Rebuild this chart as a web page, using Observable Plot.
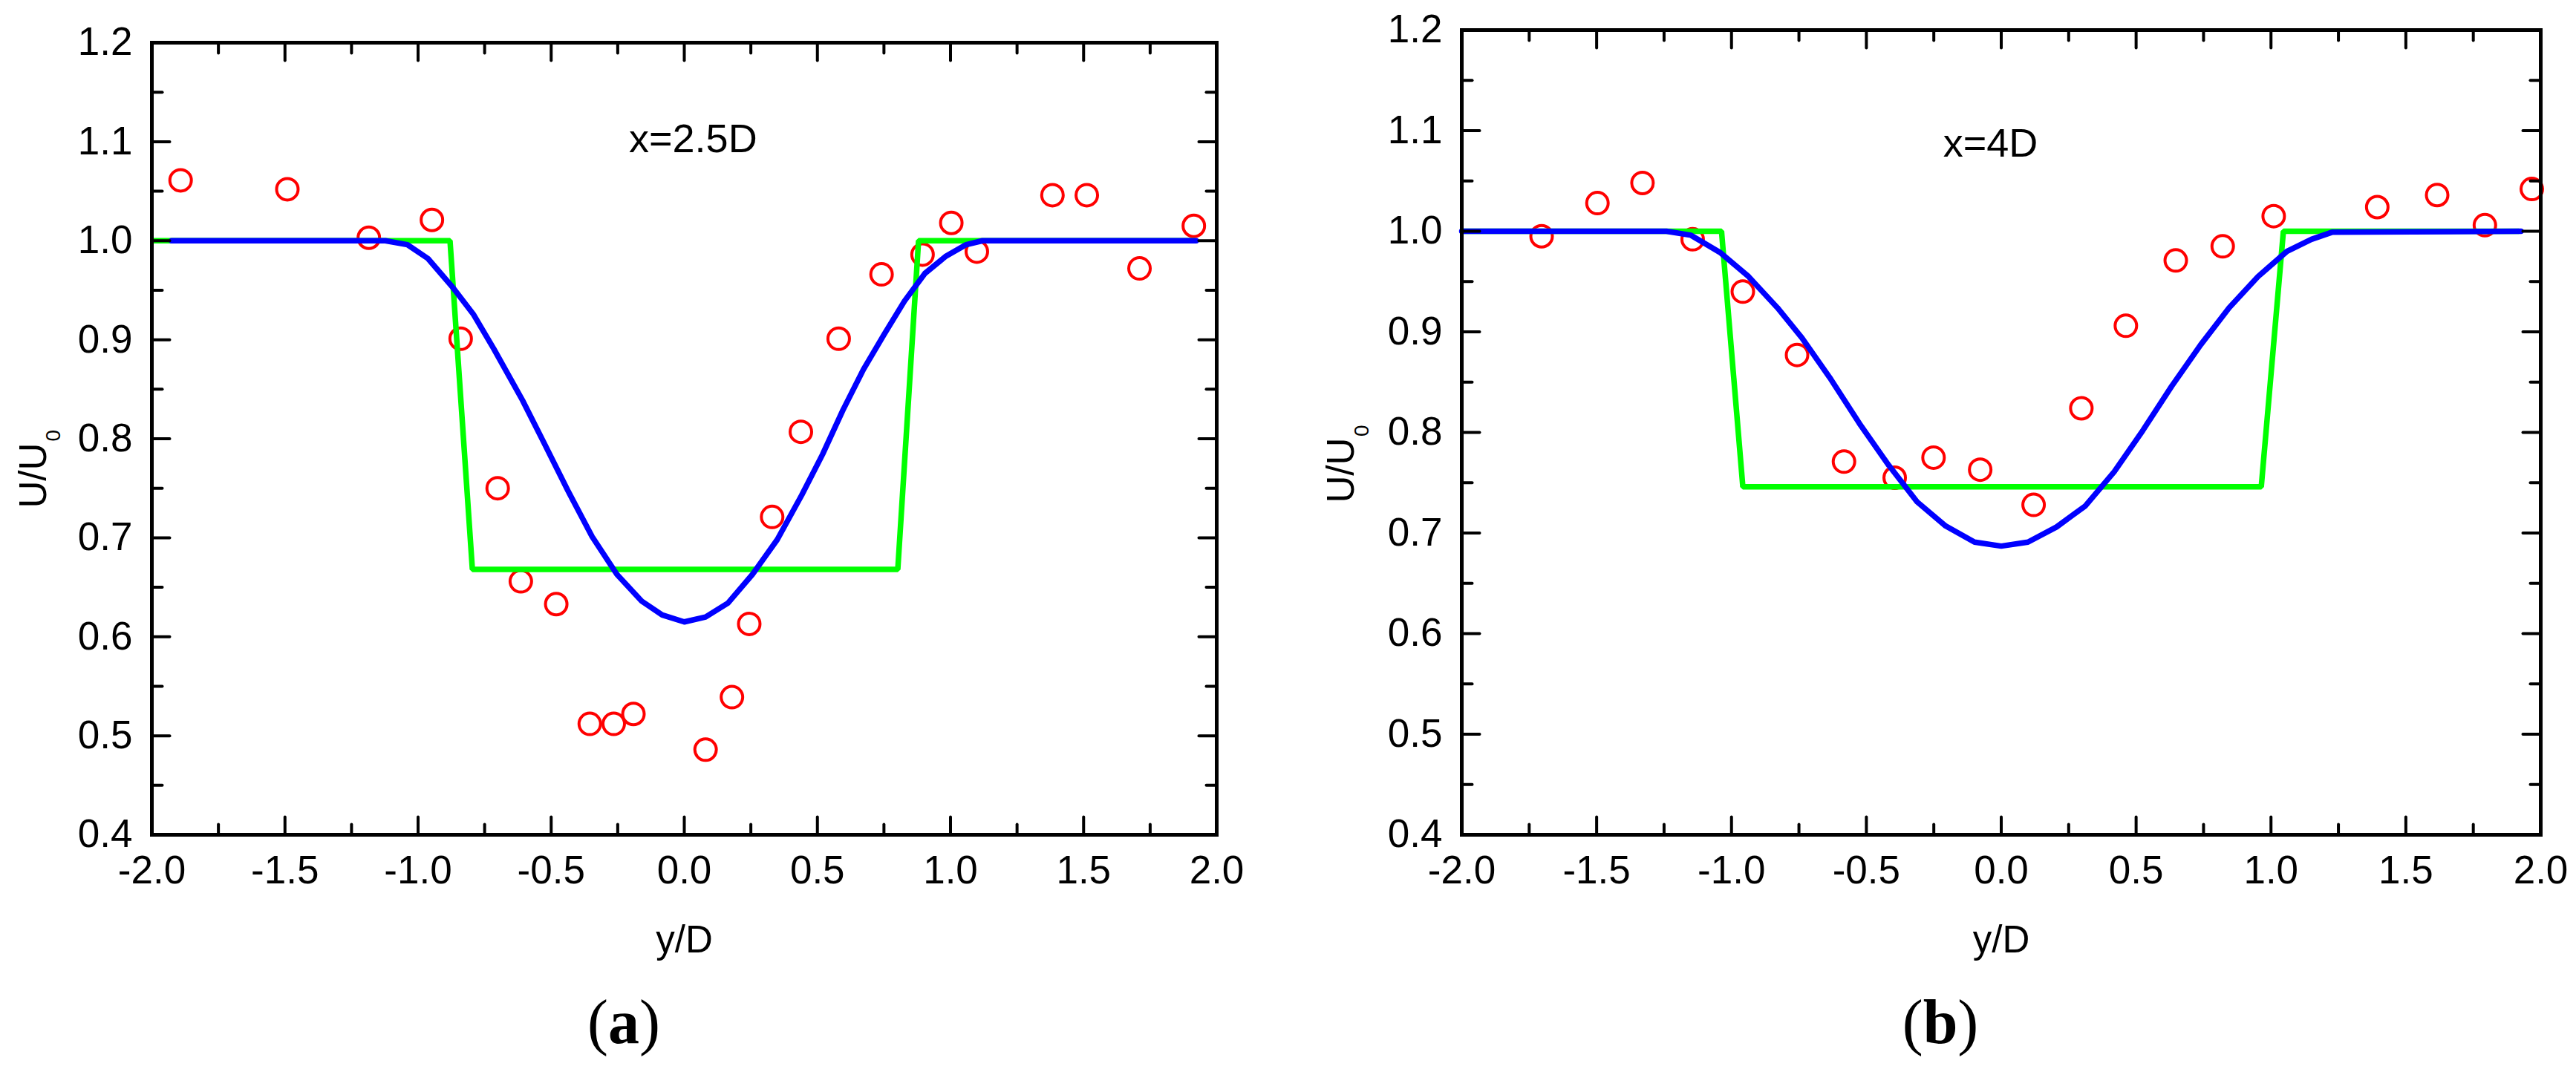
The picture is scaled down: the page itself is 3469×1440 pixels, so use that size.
<!DOCTYPE html>
<html><head><meta charset="utf-8">
<script src="https://cdn.jsdelivr.net/npm/d3@7"></script>
<script src="https://cdn.jsdelivr.net/npm/@observablehq/plot@0.6"></script>
<style>
html,body{margin:0;padding:0;background:#fff;}
#root{position:relative;width:3469px;height:1440px;background:#fff;overflow:hidden;}
.panel{position:absolute;top:0;}
.cap{position:absolute;top:1335px;font-family:"Liberation Serif","Times New Roman",serif;font-size:84px;line-height:1;transform:translateX(-50%);color:#000;white-space:nowrap;}
.cap b{font-weight:bold;}
</style></head><body><div id="root"></div>
<script>
// ---- axes ----
const xTicks = [-2.0, -1.5, -1.0, -0.5, 0.0, 0.5, 1.0, 1.5, 2.0];
const xMinorTicks = [-1.75, -1.25, -0.75, -0.25, 0.25, 0.75, 1.25, 1.75];
const yTicks = [0.4, 0.5, 0.6, 0.7, 0.8, 0.9, 1.0, 1.1, 1.2];
const yMinorTicks = [0.45, 0.55, 0.65, 0.75, 0.85, 0.95, 1.05, 1.15];
const xLabel = "y/D";
const yLabelMain = "U/U";
const yLabelSub = "0";

// ---- panel (a): x = 2.5D ----
const expA_y = [-1.892, -1.491, -1.185, -0.948, -0.840, -0.701, -0.614, -0.481, -0.355, -0.265, -0.191, 0.080, 0.179, 0.244, 0.330, 0.438, 0.580, 0.741, 0.895, 1.003, 1.099, 1.383, 1.512, 1.710, 1.914];
const expA_u = [1.061, 1.052, 1.003, 1.021, 0.901, 0.750, 0.656, 0.633, 0.512, 0.512, 0.522, 0.486, 0.539, 0.613, 0.721, 0.807, 0.901, 0.966, 0.986, 1.018, 0.989, 1.046, 1.046, 0.972, 1.015];
const stepA_y = [-2.0, -0.880, -0.796, 0.802, 0.880, 1.920];
const stepA_u = [1.0, 1.0, 0.668, 0.668, 1.0, 1.0];
const curveA_y = [-1.926, -1.123, -1.040, -0.963, -0.870, -0.793, -0.716, -0.608, -0.531, -0.438, -0.346, -0.253, -0.160, -0.083, 0.0, 0.080, 0.164, 0.256, 0.349, 0.441, 0.519, 0.596, 0.673, 0.750, 0.827, 0.904, 0.981, 1.059, 1.120, 1.923];
const curveA_u = [1.0, 1.0, 0.996, 0.982, 0.953, 0.926, 0.891, 0.839, 0.798, 0.748, 0.701, 0.663, 0.636, 0.622, 0.615, 0.620, 0.634, 0.663, 0.698, 0.743, 0.784, 0.829, 0.870, 0.905, 0.939, 0.967, 0.984, 0.996, 1.0, 1.0];
const noteA = "x=2.5D";

// ---- panel (b): x = 4D ----
const expB_y = [-1.704, -1.497, -1.330, -1.144, -0.958, -0.757, -0.583, -0.395, -0.251, -0.078, 0.120, 0.297, 0.462, 0.647, 0.821, 1.010, 1.394, 1.616, 1.793, 1.967];
const expB_u = [0.995, 1.028, 1.048, 0.992, 0.940, 0.877, 0.771, 0.755, 0.775, 0.763, 0.728, 0.824, 0.906, 0.971, 0.985, 1.015, 1.024, 1.036, 1.006, 1.042];
const stepB_y = [-2.0, -1.037, -0.958, 0.964, 1.046, 1.920];
const stepB_u = [1.0, 1.0, 0.746, 0.746, 1.0, 1.0];
const curveB_y = [-2.0, -1.241, -1.150, -1.043, -0.937, -0.830, -0.739, -0.632, -0.526, -0.419, -0.312, -0.206, -0.099, 0.0, 0.099, 0.205, 0.312, 0.419, 0.525, 0.632, 0.739, 0.845, 0.952, 1.059, 1.150, 1.226, 1.927];
const curveB_u = [1.0, 1.0, 0.996, 0.979, 0.955, 0.924, 0.894, 0.853, 0.809, 0.768, 0.731, 0.707, 0.691, 0.687, 0.691, 0.706, 0.727, 0.761, 0.802, 0.846, 0.887, 0.924, 0.955, 0.980, 0.992, 0.999, 1.0];
const noteB = "x=4D";

const zip = (xs, ys) => xs.map((x, i) => ({x, y: ys[i]}));
const tickShape = {draw(ctx, l) { ctx.moveTo(0, 0); ctx.lineTo(0, -l); }};

function inwardTicks(xs, ys, len) {
  const x0 = xTicks[0], x1 = xTicks[xTicks.length - 1];
  const y0 = yTicks[0], y1 = yTicks[yTicks.length - 1];
  const o = {length: len, anchor: "start", shape: tickShape, stroke: "black", strokeWidth: 4};
  return [
    Plot.vector(xs, {...o, x: d => d, y: () => y0, rotate: 0}),
    Plot.vector(xs, {...o, x: d => d, y: () => y1, rotate: 180}),
    Plot.vector(ys, {...o, x: () => x0, y: d => d, rotate: 90}),
    Plot.vector(ys, {...o, x: () => x1, y: d => d, rotate: -90})
  ];
}

function panel(cfg) {
  const inner = a => a.slice(1, -1);
  return Plot.plot({
    width: cfg.width, height: 1320,
    marginLeft: cfg.ml, marginRight: cfg.mr, marginTop: cfg.mt, marginBottom: 196,
    x: {domain: [xTicks[0], xTicks[xTicks.length - 1]]},
    y: {domain: [yTicks[0], yTicks[yTicks.length - 1]]},
    style: {fontFamily: "'Liberation Sans', Arial, sans-serif", color: "black", background: "white", overflow: "visible"},
    marks: [
      Plot.dot(zip(cfg.ey, cfg.eu), {x: "x", y: "y", r: 14.5, stroke: "#ff0000", strokeWidth: 4, fill: "none"}),
      Plot.line(zip(cfg.sy, cfg.su), {x: "x", y: "y", stroke: "#00ff00", strokeWidth: 7.5, strokeLinejoin: "miter", strokeLinecap: "butt"}),
      Plot.line(zip(cfg.cy, cfg.cu), {x: "x", y: "y", stroke: "#0000ff", strokeWidth: 7.5, strokeLinejoin: "round", strokeLinecap: "round"}),
      Plot.frame({stroke: "black", strokeWidth: 5}),
      ...inwardTicks(inner(xTicks), inner(yTicks), 24),
      ...inwardTicks(xMinorTicks, yMinorTicks, 14),
      Plot.axisX(xTicks, {anchor: "bottom", tickSize: 0, tickPadding: 28, tickFormat: d => d.toFixed(1), fontSize: 53, label: null}),
      Plot.axisY(yTicks, {anchor: "left", tickSize: 0, tickPadding: 26, tickFormat: d => d.toFixed(1), fontSize: 53, label: null}),
      Plot.text([xLabel], {text: d => d, frameAnchor: "bottom", lineAnchor: "bottom", dy: 158, fontSize: 51}),
      Plot.text([yLabelMain], {text: d => d, frameAnchor: "left", rotate: -90, textAnchor: "start", lineAnchor: "bottom", dx: cfg.ldx, dy: cfg.ldy, fontSize: 51}),
      Plot.text([yLabelSub], {text: d => d, frameAnchor: "left", rotate: -90, textAnchor: "start", lineAnchor: "bottom", dx: cfg.sdx, dy: cfg.sdy, fontSize: 28}),
      Plot.text([cfg.note], {text: d => d, x: () => cfg.nx, y: () => cfg.ny, fontSize: 54})
    ]
  });
}

const root = document.getElementById("root");
const a = panel({width: 1734, ml: 204, mr: 96, mt: 57,
  ey: expA_y, eu: expA_u, sy: stepA_y, su: stepA_u, cy: curveA_y, cu: curveA_u,
  note: noteA, nx: 0.033, ny: 1.102, ldx: -142.5, ldy: 93.5, sdx: -123.5, sdy: 3.5});
const b = panel({width: 1735, ml: 234, mr: 48, mt: 40,
  ey: expB_y, eu: expB_u, sy: stepB_y, su: stepB_u, cy: curveB_y, cu: curveB_u,
  note: noteB, nx: -0.04, ny: 1.087, ldx: -145.5, ldy: 95, sdx: -126, sdy: 5.5});
a.classList.add("panel"); a.style.left = "0px";
b.classList.add("panel"); b.style.left = "1734px";
root.appendChild(a); root.appendChild(b);

function caption(letter, cx) {
  const d = document.createElement("div");
  d.className = "cap";
  d.style.left = cx + "px";
  d.innerHTML = "(<b>" + letter + "</b>)";
  root.appendChild(d);
}
caption("a", 840);
caption("b", 2613);
</script>
</body></html>
